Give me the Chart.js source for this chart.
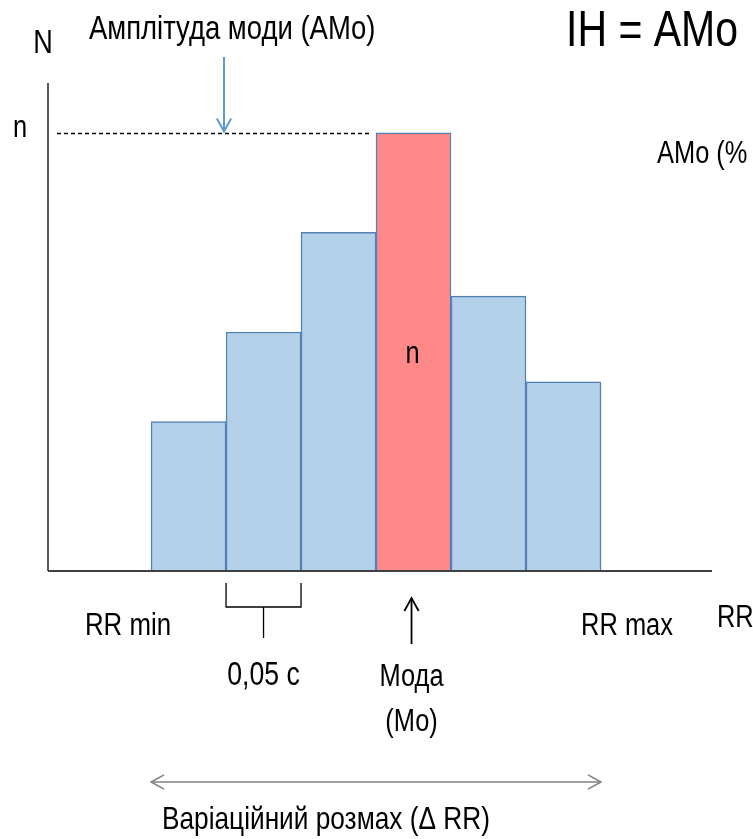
<!DOCTYPE html>
<html>
<head>
<meta charset="utf-8">
<script src="https://cdn.jsdelivr.net/npm/chart.js@4"></script>
<style>
  html, body { margin: 0; padding: 0; background: #fff; }
  #wrap { width: 753px; height: 839px; position: relative; }
</style>
</head>
<body>
<div id="wrap"><canvas id="histChart"></canvas></div>
<script>
// --- data ---
const rrBins = [0.625, 0.675, 0.725, 0.775, 0.825, 0.875];   // bin centres, s
const binWidth = 0.05;
const counts = [15, 24, 34, 44, 27.6, 19];
const modeIndex = 3;

// Calibri-like look: Liberation Sans squeezed horizontally
const FONT = "'Liberation Sans', Arial, sans-serif";
const SQUEEZE = 0.82;

const barFill = counts.map((v, i) => i === modeIndex ? '#FF8989' : '#B4D1EA');

function arrowHead(ctx, x, y, dx, dy, size) {
    // open V-shaped head pointing along (dx, dy)
    const len = Math.hypot(dx, dy);
    const ux = dx / len, uy = dy / len;
    ctx.beginPath();
    ctx.moveTo(x - ux * size - uy * size * 0.55, y - uy * size + ux * size * 0.55);
    ctx.lineTo(x, y);
    ctx.lineTo(x - ux * size + uy * size * 0.55, y - uy * size - ux * size * 0.55);
    ctx.stroke();
}

function text(ctx, str, x, y, size, align) {
    ctx.save();
    ctx.font = size + 'px ' + FONT;
    ctx.textAlign = align || 'center';
    ctx.textBaseline = 'middle';
    ctx.fillStyle = '#000';
    ctx.translate(x, y);
    ctx.scale(SQUEEZE, 1);
    ctx.fillText(str, 0, 0);
    ctx.restore();
}

const annotations = {
    id: 'annotations',
    afterDatasetsDraw(chart) {
        const ctx = chart.ctx;
        const xs = chart.scales.x, ys = chart.scales.y;
        const area = chart.chartArea;
        const x0 = area.left, y0 = ys.getPixelForValue(0);
        const nY = Math.round(ys.getPixelForValue(counts[modeIndex])) + 0.5;
        const modeX = xs.getPixelForValue(rrBins[modeIndex]);
        const modeLeft = xs.getPixelForValue(rrBins[modeIndex] - binWidth / 2);
        ctx.save();

        // axes
        ctx.strokeStyle = '#222';
        ctx.lineWidth = 1.5;
        ctx.beginPath();
        ctx.moveTo(x0, area.top);
        ctx.lineTo(x0, y0);
        ctx.stroke();
        ctx.strokeStyle = '#404040';
        ctx.lineWidth = 2;
        ctx.beginPath();
        ctx.moveTo(x0, y0);
        ctx.lineTo(area.right, y0);
        ctx.stroke();

        // dashed level of the mode
        ctx.strokeStyle = '#000';
        ctx.lineWidth = 1.3;
        ctx.setLineDash([4, 3]);
        ctx.beginPath();
        ctx.moveTo(x0 + 9, nY);
        ctx.lineTo(modeLeft - 6, nY);
        ctx.stroke();
        ctx.setLineDash([]);

        // blue arrow to the dashed line
        ctx.strokeStyle = '#5B9BD5';
        ctx.lineWidth = 2;
        ctx.beginPath();
        ctx.moveTo(224, 57);
        ctx.lineTo(224, nY - 2);
        ctx.stroke();
        arrowHead(ctx, 224, nY - 2, 0, 1, 13);

        // bracket for one bin width
        const bL = xs.getPixelForValue(rrBins[1] - binWidth / 2);
        const bR = xs.getPixelForValue(rrBins[1] + binWidth / 2);
        const bM = (bL + bR) / 2;
        ctx.strokeStyle = '#000';
        ctx.lineWidth = 1.3;
        ctx.beginPath();
        ctx.moveTo(bL, y0 + 12);
        ctx.lineTo(bL, y0 + 36);
        ctx.lineTo(bR, y0 + 36);
        ctx.lineTo(bR, y0 + 12);
        ctx.moveTo(bM, y0 + 36);
        ctx.lineTo(bM, y0 + 67);
        ctx.stroke();

        // arrow up to the mode
        ctx.lineWidth = 1.8;
        ctx.beginPath();
        ctx.moveTo(modeX - 2, y0 + 73);
        ctx.lineTo(modeX - 2, y0 + 27);
        ctx.stroke();
        arrowHead(ctx, modeX - 2, y0 + 27, 0, -1, 13);

        // range arrow
        const rL = xs.getPixelForValue(rrBins[0] - binWidth / 2);
        const rR = xs.getPixelForValue(rrBins[rrBins.length - 1] + binWidth / 2);
        ctx.strokeStyle = '#808080';
        ctx.lineWidth = 1.5;
        ctx.beginPath();
        ctx.moveTo(rL, 782);
        ctx.lineTo(rR, 782);
        ctx.stroke();
        arrowHead(ctx, rL, 782, -1, 0, 13);
        arrowHead(ctx, rR, 782, 1, 0, 13);

        // labels
        text(ctx, 'N', 43, 44, 33);
        text(ctx, 'Амплітуда моди (АМо)', 89, 30, 33.5, 'left');
        text(ctx, 'IH = AMo', 566, 32, 50, 'left');
        text(ctx, 'n', 20, 128, 31);
        text(ctx, 'AMo (%', 657, 154, 31, 'left');
        text(ctx, 'n', modeX - 1, 354, 31);
        text(ctx, 'RR min', 128, 626, 31.5);
        text(ctx, 'RR max', 627, 626, 31);
        text(ctx, 'RR', 717, 618, 31, 'left');
        text(ctx, '0,05 с', bM, 676, 32.5);
        text(ctx, 'Мода', modeX - 2, 677, 31);
        text(ctx, '(Мо)', modeX - 2, 722, 31);
        text(ctx, 'Варіаційний розмах (Δ RR)', 162, 820, 32, 'left');

        ctx.restore();
    }
};

document.addEventListener('DOMContentLoaded', function() {
    const ctx = document.getElementById('histChart');
    new Chart(ctx, {
        type: 'bar',
        data: {
            datasets: [{
                data: rrBins.map((x, i) => ({ x: x, y: counts[i] })),
                backgroundColor: barFill,
                borderColor: '#5580B4',
                borderWidth: 1.5,
                barPercentage: 1,
                categoryPercentage: 1
            }]
        },
        options: {
            responsive: true,
            maintainAspectRatio: false,
            animation: false,
            layout: { padding: { left: 48, right: 41, top: 83, bottom: 268 } },
            plugins: { legend: { display: false }, tooltip: { enabled: false } },
            scales: {
                x: {
                    type: 'linear', min: 0.5313, max: 0.974, offset: false, display: false,
                    // ticks only at the bin centres so the bars get the full bin width
                    afterBuildTicks: (scale) => { scale.ticks = rrBins.map(v => ({ value: v })); }
                },
                y: { min: 0, max: 49, display: false }
            }
        },
        plugins: [annotations]
    });
});
</script>
</body>
</html>
